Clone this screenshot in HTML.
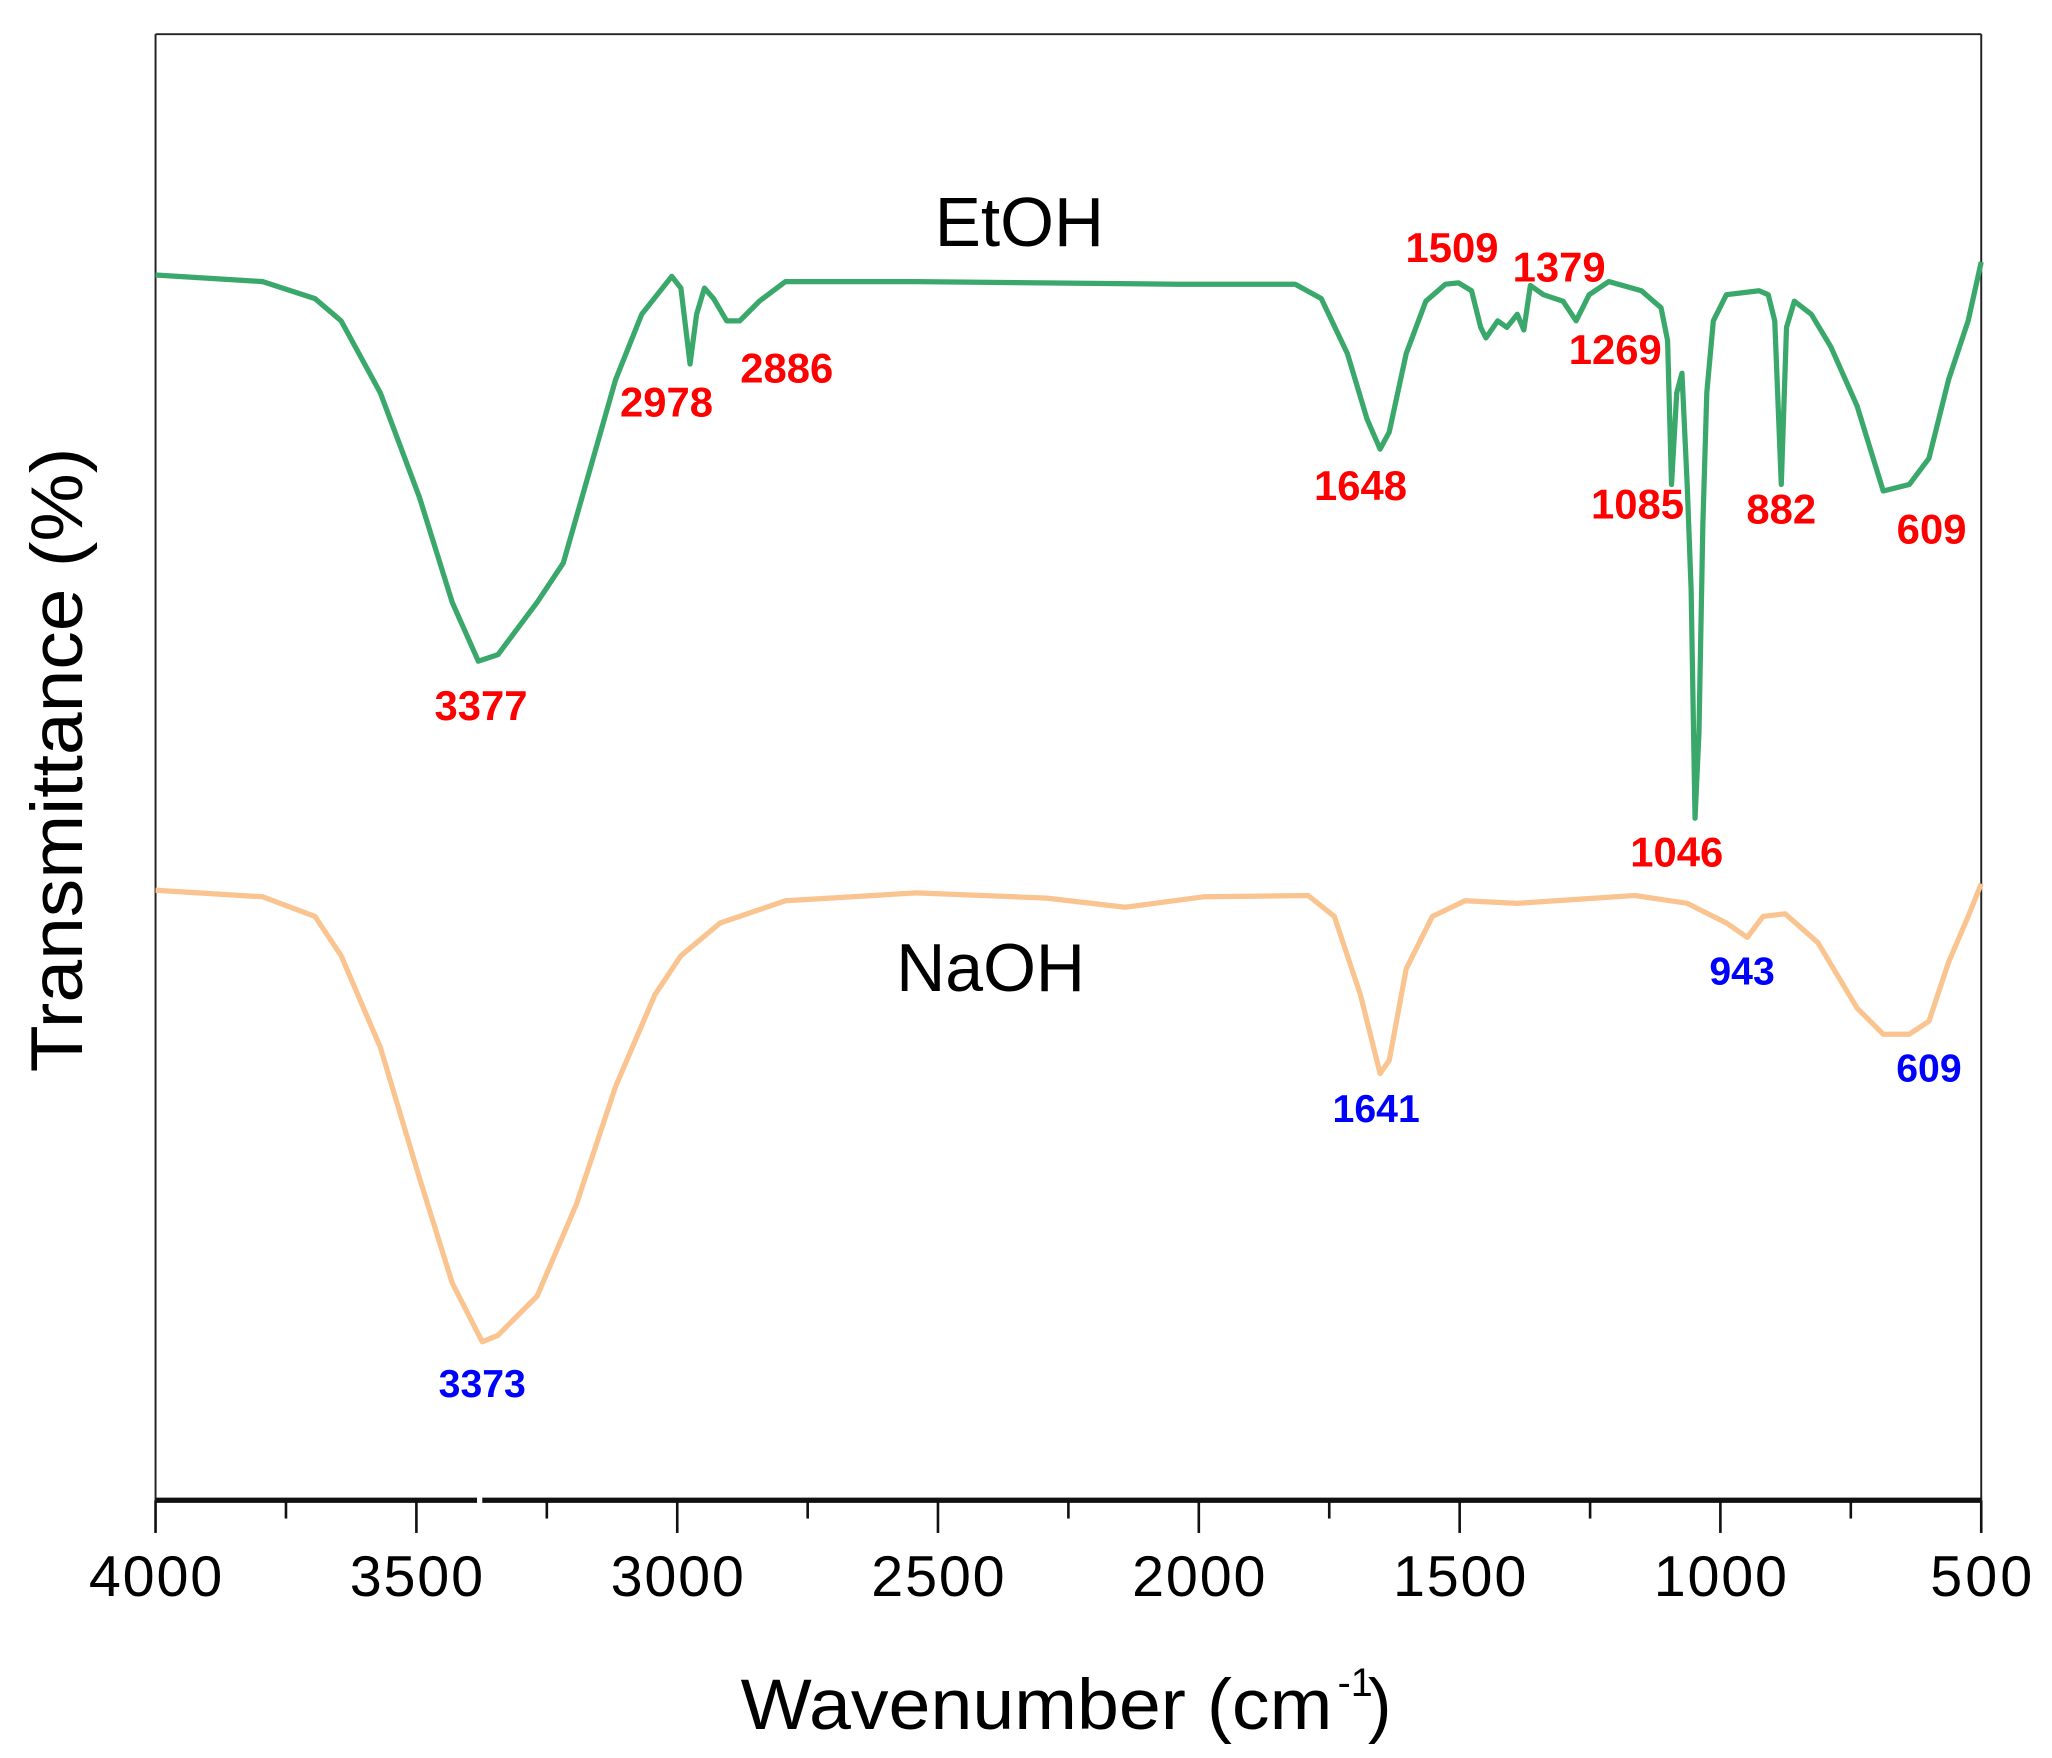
<!DOCTYPE html>
<html><head><meta charset="utf-8"><style>html,body{margin:0;padding:0;background:#fff}svg{display:block}</style></head>
<body>
<svg width="2052" height="1758" viewBox="0 0 1560 1337" xmlns="http://www.w3.org/2000/svg" font-family="Liberation Sans, Arial, sans-serif">
<rect width="1560" height="1337" fill="#fff"/>
<g transform="translate(118,26) scale(0.9939,0.9955) translate(-118,-26)">
<line x1="118" y1="26" x2="1515" y2="26" stroke="#222" stroke-width="1.5"/>
<line x1="118" y1="26" x2="118" y2="1146" stroke="#222" stroke-width="1.5"/>
<line x1="1515" y1="26" x2="1515" y2="1146" stroke="#222" stroke-width="1.5"/>
<line x1="118" y1="1146" x2="364" y2="1146" stroke="#111" stroke-width="4"/>
<line x1="368" y1="1146" x2="1515" y2="1146" stroke="#111" stroke-width="4"/>
<g stroke="#111" stroke-width="2">
<line x1="118" y1="1146" x2="118" y2="1171"/><line x1="317.6" y1="1146" x2="317.6" y2="1171"/>
<line x1="517.2" y1="1146" x2="517.2" y2="1171"/><line x1="716.7" y1="1146" x2="716.7" y2="1171"/>
<line x1="916.3" y1="1146" x2="916.3" y2="1171"/><line x1="1115.9" y1="1146" x2="1115.9" y2="1171"/>
<line x1="1315.4" y1="1146" x2="1315.4" y2="1171"/><line x1="1515" y1="1146" x2="1515" y2="1171"/>
<line x1="217.8" y1="1146" x2="217.8" y2="1160"/><line x1="417.4" y1="1146" x2="417.4" y2="1160"/>
<line x1="617" y1="1146" x2="617" y2="1160"/><line x1="816.5" y1="1146" x2="816.5" y2="1160"/>
<line x1="1016.1" y1="1146" x2="1016.1" y2="1160"/><line x1="1215.7" y1="1146" x2="1215.7" y2="1160"/>
<line x1="1415.2" y1="1146" x2="1415.2" y2="1160"/>
</g>
<g font-size="44" text-anchor="middle" fill="#000">
<text x="118" y="1219" textLength="102">4000</text><text x="317.6" y="1219" textLength="102">3500</text><text x="517.2" y="1219" textLength="102">3000</text>
<text x="716.7" y="1219" textLength="102">2500</text><text x="916.3" y="1219" textLength="102">2000</text><text x="1115.9" y="1219" textLength="102">1500</text>
<text x="1315.4" y="1219" textLength="102">1000</text><text x="1515" y="1219" textLength="78">500</text>
</g>
<polyline fill="none" stroke="#3aa86b" stroke-width="4" stroke-linejoin="round" points="118,210 200,215 240,228 260,245 290,300 320,380 345,460 365,505 380,500 410,460 430,430 450,360 470,290 490,240 513,211 520,220 527,278 532,240 538,220 545,228 555,245 565,245 580,230 600,215 700,215 900,217 990,217 1010,228 1030,270 1045,320 1055,343 1062,330 1075,270 1090,230 1105,217 1115,216 1125,222 1132,250 1136,258 1145,245 1152,250 1160,240 1165,252 1170,218 1180,225 1195,230 1205,245 1215,225 1230,215 1255,222 1270,235 1275,260 1278,370 1282,300 1286,285 1290,370 1293,450 1296,625 1299,560 1302,400 1305,300 1310,245 1320,225 1345,222 1352,225 1357,245 1362,370 1366,250 1372,230 1385,240 1400,265 1420,310 1440,375 1460,370 1475,350 1490,290 1505,245 1515,200"/>
<polyline fill="none" stroke="#f9c490" stroke-width="4" stroke-linejoin="round" points="118,680 200,685 240,700 260,730 290,800 320,900 345,980 368,1025 380,1020 410,990 440,920 470,830 500,760 520,730 550,705 600,688 700,682 800,686 860,693 920,685 1000,684 1020,700 1040,760 1055,820 1062,810 1075,740 1095,700 1120,688 1160,690 1250,684 1290,690 1320,705 1336,716 1348,700 1365,698 1390,720 1420,770 1440,790 1460,790 1475,780 1490,735 1505,700 1515,675"/>
<text x="779" y="188" font-size="53" text-anchor="middle">EtOH</text>
<text x="757" y="757" font-size="52" text-anchor="middle">NaOH</text>
<g fill="#f00" font-weight="bold" font-size="32" text-anchor="middle">
<text x="367" y="550">3377</text><text x="509" y="318">2978</text><text x="601" y="292">2886</text>
<text x="1040" y="382">1648</text><text x="1110" y="200">1509</text><text x="1192" y="215">1379</text>
<text x="1235" y="278">1269</text><text x="1252" y="396">1085</text><text x="1362" y="400">882</text>
<text x="1477" y="415">609</text><text x="1282" y="662">1046</text>
</g>
<g fill="#00f" font-weight="bold" font-size="30" text-anchor="middle">
<text x="368" y="1067">3373</text><text x="1052" y="857">1641</text><text x="1332" y="752">943</text><text x="1475" y="826">609</text>
</g>
</g>
<text x="563" y="1315" font-size="54" textLength="450" lengthAdjust="spacingAndGlyphs">Wavenumber (cm</text>
<text x="1017" y="1290" font-size="30">-1</text>
<text x="1040" y="1315" font-size="54">)</text>
<text transform="translate(62,578) rotate(-90)" font-size="56" text-anchor="middle" textLength="475" lengthAdjust="spacingAndGlyphs">Transmittance (%)</text>
</svg>
</body></html>
